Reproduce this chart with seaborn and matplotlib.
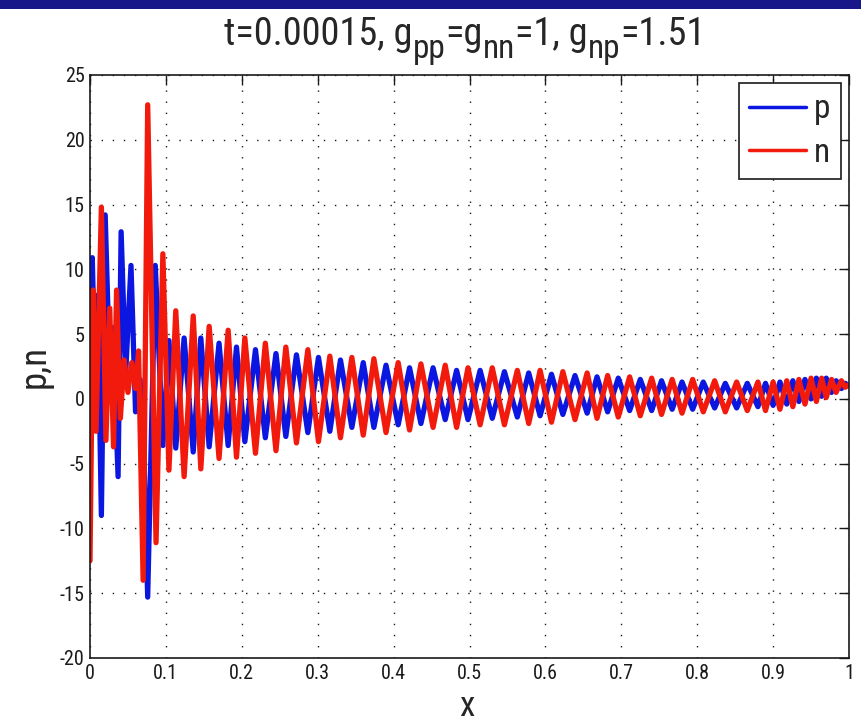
import numpy as np
import pandas as pd
import matplotlib
matplotlib.use("Agg")
import matplotlib.pyplot as plt
import matplotlib.font_manager as fm
from matplotlib.lines import Line2D
from matplotlib.patches import Rectangle
from matplotlib.transforms import IdentityTransform
import seaborn as sns

# ---------------- data (vertices) ----------------
n_x_early = [0.000, 0.004, 0.008, 0.015, 0.021, 0.026, 0.031, 0.035, 0.040, 0.045,
             0.050, 0.055, 0.060, 0.064, 0.070, 0.076, 0.087, 0.096, 0.104]
n_y_early = [-12.5, 8.4, -2.5, 14.8, -3.2, 7.0, -3.7, 8.4, -1.5, 3.0,
             0.5, 2.8, 0.8, 3.7, -14.0, 22.7, -11.1, 11.2, -5.5]

p_x_early = [0.000, 0.003, 0.007, 0.010, 0.015, 0.020, 0.026, 0.030, 0.037, 0.041,
             0.047, 0.054, 0.060, 0.066, 0.071, 0.076, 0.086, 0.096, 0.104]
p_y_early = [8.0, 10.9, 1.0, 8.0, -9.0, 14.2, 2.0, 5.5, -6.0, 12.9,
             2.0, 10.3, -1.0, 1.5, -4.0, -15.3, 10.3, -3.6, 4.5]

x_reg = [0.113, 0.124, 0.136, 0.146, 0.157, 0.170, 0.182, 0.193, 0.204, 0.218,
         0.231, 0.245, 0.258, 0.272, 0.287, 0.301, 0.316, 0.330, 0.345, 0.360,
         0.374, 0.390, 0.406, 0.421, 0.436, 0.452, 0.468, 0.483, 0.498, 0.514,
         0.530, 0.546, 0.563, 0.578, 0.593, 0.608, 0.623, 0.639, 0.655, 0.668,
         0.682, 0.696, 0.711, 0.725, 0.740, 0.753, 0.767, 0.780, 0.794, 0.808,
         0.823, 0.837, 0.852, 0.866, 0.880, 0.890, 0.900, 0.909, 0.918, 0.926,
         0.934, 0.942, 0.950, 0.957, 0.964, 0.970, 0.977, 0.983, 0.990, 0.995,
         1.000]

n_y_reg = [6.8, -6.0, 6.4, -5.4, 5.6, -4.6, 5.3, -4.5, 4.7, -4.2,
           4.3, -4.0, 4.0, -3.4, 3.8, -3.3, 3.3, -3.0, 3.2, -2.8,
           3.1, -2.6, 2.8, -2.4, 2.7, -2.2, 2.6, -2.2, 2.4, -2.0,
           2.4, -2.0, 2.2, -1.9, 2.2, -1.8, 2.1, -1.6, 2.0, -1.5,
           1.8, -1.4, 1.7, -1.3, 1.6, -1.2, 1.5, -1.1, 1.5, -1.0,
           1.4, -1.0, 1.3, -0.9, 1.3, -0.9, 1.3, -0.8, 1.4, -0.6,
           1.5, -0.4, 1.6, -0.2, 1.6, 0.1, 1.5, 0.5, 1.4, 0.9,
           1.1]

p_y_reg = [-3.8, 4.7, -4.1, 4.7, -3.7, 4.3, -3.6, 4.0, -3.3, 3.8,
           -3.0, 3.5, -2.9, 3.4, -2.6, 3.2, -2.5, 3.0, -2.2, 2.8,
           -2.2, 2.6, -2.0, 2.4, -1.9, 2.4, -1.6, 2.2, -1.6, 2.2,
           -1.5, 2.1, -1.4, 2.0, -1.3, 1.9, -1.2, 1.8, -1.1, 1.7,
           -1.0, 1.6, -0.9, 1.5, -0.9, 1.4, -0.8, 1.3, -0.8, 1.3,
           -0.7, 1.2, -0.7, 1.2, -0.6, 1.2, -0.5, 1.3, -0.4, 1.4,
           -0.2, 1.5, 0.0, 1.6, 0.2, 1.6, 0.5, 1.4, 0.8, 1.2,
           1.0]

x_ticks = [0, 0.1, 0.2, 0.3, 0.4, 0.5, 0.6, 0.7, 0.8, 0.9, 1]
x_tick_labels = ["0", "0.1", "0.2", "0.3", "0.4", "0.5", "0.6", "0.7", "0.8", "0.9", "1"]
y_ticks = [-20, -15, -10, -5, 0, 5, 10, 15, 20, 25]
y_tick_labels = ["-20", "-15", "-10", "-5", "0", "5", "10", "15", "20", "25"]
series_names = ["p", "n"]
title_pieces = [("t=0.00015, g", False), ("pp", True), ("=g", False), ("nn", True),
                ("=1, g", False), ("np", True), ("=1.51", False)]

# ---------------- fonts: prefer a narrow sans if one is installed ----------------
ttf = fm.fontManager.ttflist
narrow = None
for fam in ["Liberation Sans Narrow", "Roboto Condensed", "Open Sans Condensed",
            "DejaVu Sans Condensed", "Noto Sans Condensed"]:
    if any(f.name == fam for f in ttf):
        narrow = dict(family=fam, stretch="normal")
        break
if narrow is None:
    for f in ttf:
        if f.name in ("DejaVu Sans", "Roboto", "Open Sans", "Noto Sans", "Inter") and \
                f.stretch in ("condensed", "semi-condensed") and f.weight in (400, "normal") \
                and f.style == "normal":
            narrow = dict(family=f.name, stretch=f.stretch)
            break
if narrow is None:
    FONT = dict(family="Liberation Sans", stretch="normal")
    SCALE = 1.0
else:
    FONT = narrow
    SCALE = 1.2


def fp(size):
    return fm.FontProperties(family=[FONT["family"], "DejaVu Sans"], stretch=FONT["stretch"],
                             size=size)


# ---------------- build frame ----------------
df = pd.concat([
    pd.DataFrame({"x": p_x_early + x_reg, "v": p_y_early + p_y_reg, "s": "p"}),
    pd.DataFrame({"x": n_x_early + x_reg, "v": n_y_early + n_y_reg, "s": "n"}),
], ignore_index=True)

BLUE = "#0b16e0"
RED = "#f21a0c"

sns.set_theme(style="white")
plt.rcParams["font.family"] = ["Liberation Sans", "DejaVu Sans"]
plt.rcParams["axes.unicode_minus"] = False

W, H = 861, 724
fig = plt.figure(figsize=(W / 100, H / 100), dpi=100)
fig.patch.set_facecolor("white")
fig.patches.append(Rectangle((0, 1 - 9 / H), 1, 9 / H, transform=fig.transFigure,
                             facecolor="#17178a", edgecolor="none", zorder=0))

ax = fig.add_axes([90 / W, 1 - 658 / H, 759 / W, 583 / H])
sns.lineplot(data=df, x="x", y="v", hue="s", hue_order=series_names,
             palette={"p": BLUE, "n": RED}, sort=False, estimator=None,
             linewidth=3.8, ax=ax, legend=False)

ax.set_xlim(0, 1)
ax.set_ylim(-20, 25)
ax.set_xticks(x_ticks)
ax.set_xticklabels(x_tick_labels, fontproperties=fp(12 * SCALE))
ax.set_yticks(y_ticks)
ax.set_yticklabels(y_tick_labels, fontproperties=fp(12 * SCALE))
ax.tick_params(axis="both", direction="in", length=7, width=1, top=True, right=True,
               colors="k", pad=4)
ax.grid(True, color="k", linestyle=(0, (1, 7)), linewidth=1.0)
for sp in ax.spines.values():
    sp.set_color("k")
    sp.set_linewidth(1.2)
    sp.set_visible(True)

ax.set_xlabel("")
ax.set_ylabel("")
fig.text(35 / W, 1 - 367 / H, "p,n", rotation=90, ha="center", va="center",
         fontproperties=fp(22 * SCALE))
fig.text(467 / W, 1 - 706 / H, "x", ha="center", va="center", fontproperties=fp(21 * SCALE))

# title with MATLAB-like large subscripts, laid out piece by piece
renderer = fig.canvas.get_renderer()
base_y = H - 45
xcur = 0.0
tobjs = []
for s, sub in title_pieces:
    size = (20 if sub else 23) * SCALE
    y = base_y - (13 if sub else 0)
    t = fig.text(xcur, y, s, transform=IdentityTransform(), ha="left", va="baseline",
                 fontproperties=fp(size))
    xcur += t.get_window_extent(renderer).width
    tobjs.append(t)
shift = 465 - xcur / 2
for t in tobjs:
    x0, y0 = t.get_position()
    t.set_position((x0 + shift, y0))

handles = [Line2D([], [], color=BLUE, linewidth=2.5), Line2D([], [], color=RED, linewidth=2.5)]
leg = ax.legend(handles, series_names, loc="upper right", prop=fp(24), frameon=True,
                fancybox=False, edgecolor="k", framealpha=1, handlelength=1.7,
                handletextpad=0.25, borderaxespad=0.25, labelspacing=0.35, borderpad=0.3)
leg.get_frame().set_linewidth(1.2)

fig.savefig("out.png", dpi=100)
